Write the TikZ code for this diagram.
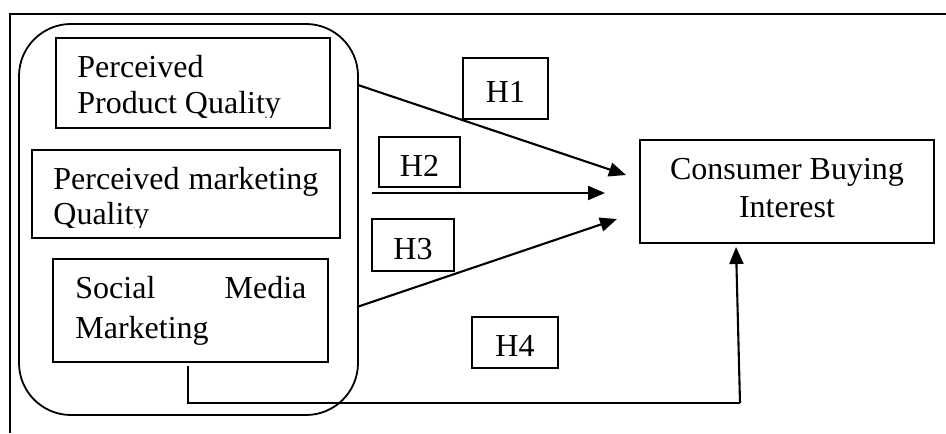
\documentclass[tikz,border=0pt]{standalone}
\usepackage{fontspec}
\setmainfont{Liberation Serif}
\usetikzlibrary{fit,arrows.meta}
\begin{document}
\begin{tikzpicture}[x=0.5pt,y=-0.5pt,
  box/.style={draw,line width=1pt,inner sep=0pt},
  txt/.style={inner sep=0pt,font=\fontsize{16pt}{19pt}\selectfont},
  hlabel/.style={draw,line width=0.9pt,inner sep=0pt,
    font=\fontsize{16pt}{19pt}\selectfont,text height=14pt,text depth=0pt},
  arr/.style={line width=1.05pt,-{Triangle[length=8.5pt,width=7pt]}},
  thinline/.style={line width=0.75pt},
]
\useasboundingbox (0,0) rectangle (946,433);

% outer frame (top and left edges)
\draw[line width=1.1pt] (946,14) -- (10,14) -- (10,433);

% group of independent variables
\node[box,line width=0.9pt,rounded corners=26pt,fit={(19,24)(358,415)}] (grp) {};

% variable boxes
\node[box,fit={(56,38)(330,128)}] (ppq) {};
\node[box,fit={(32,150)(340,238)}] (pmq) {};
\node[box,fit={(53,259)(328,362)}] (smm) {};
\node[box,fit={(640,140)(934,243)}] (cbi) {};

% box texts
\node[txt,anchor=base west] (ppq1) at (77,78) {Perceived};
\begin{scope}
  \clip (56,38) rectangle (330,117);
  \node[txt,anchor=base west] (ppq2) at (77,113) {Product Quality};
\end{scope}
\node[txt,anchor=base west] (pmq1) at (53,189) {\makebox[132.5pt][s]{Perceived marketing}};
\begin{scope}
  \clip (32,150) rectangle (340,227);
  \node[txt,anchor=base west] (pmq2) at (53,224) {Quality};
\end{scope}
\node[txt,anchor=base west] (smm1) at (75,298) {\makebox[115.5pt][s]{Social Media}};
\node[txt,anchor=base west] (smm2) at (75,338) {Marketing};
\node[txt,anchor=base] (cbi1) at (787,179) {Consumer Buying};
\node[txt,anchor=base] (cbi2) at (787,217) {Interest};

% hypothesis labels
\node[hlabel,minimum width=42.5pt,minimum height=30.5pt] (h1) at (505.5,88.5) {H1};
\node[hlabel,minimum width=40.5pt,minimum height=25pt] (h2) at (419.5,162) {H2};
\node[hlabel,minimum width=41pt,minimum height=26pt] (h3) at (413,245) {H3};
\node[hlabel,minimum width=43pt,minimum height=25.5pt] (h4) at (515,342.5) {H4};

% connector end points
\coordinate (a1) at (358,85);
\coordinate (e1) at (626,175);
\coordinate (a2) at (372,193);
\coordinate (e2) at (605,193);
\coordinate (a3) at (357,307);
\coordinate (e3) at (617,219);
\coordinate (a4) at (188,366);
\coordinate (k1) at (188,403);
\coordinate (k2) at (740,403);
\coordinate (e4) at (736,247);

% hypothesised paths
\draw[arr] (a1) -- (e1);
\draw[arr] (a2) -- (e2);
\draw[arr] (a3) -- (e3);
\draw[thinline] (a4) -- (k1) -- (k2);
\draw[arr] (k2) -- (e4);
\end{tikzpicture}
\end{document}
